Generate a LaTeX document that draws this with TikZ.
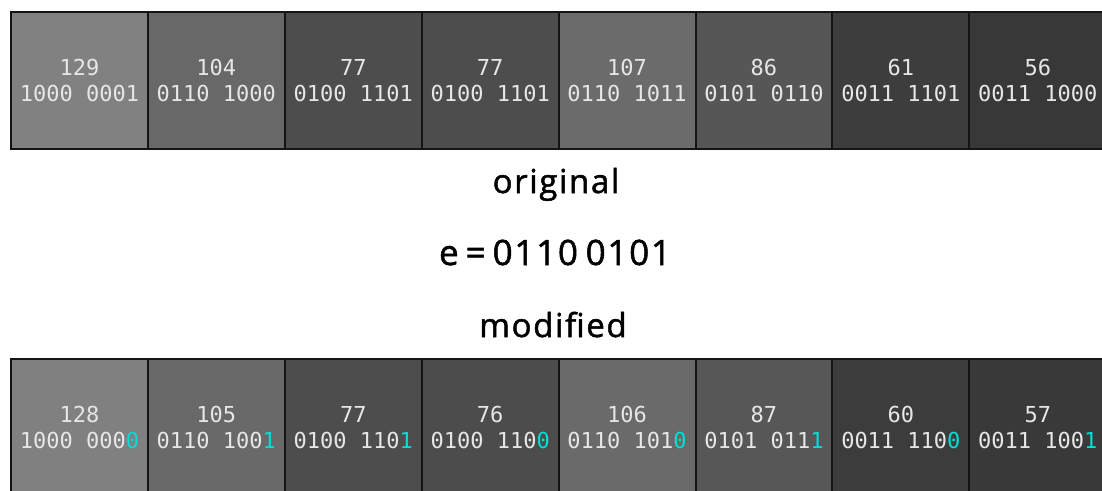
\documentclass[tikz,border=0pt]{standalone}
\usepackage{fontspec}
\setmainfont{Open Sans}
\newfontfamily\monof{DejaVu Sans Mono}
\newfontfamily\titlef[LetterSpace=5,FakeBold=1.5]{Open Sans}
\definecolor{txt}{RGB}{230,230,230}
\definecolor{cy}{RGB}{0,222,216}
\newcommand{\hl}[1]{{\color{cy}#1}}
\begin{document}
\begin{tikzpicture}[x=1pt,y=-1pt,
  cell/.style={draw={rgb,255:red,20;green,20;blue,20}, line width=2pt, minimum width=136.9pt, minimum height=137pt,
    inner sep=0pt, anchor=north west, align=center, text=txt,
    font=\monof\fontsize{22}{26}\selectfont,
    fill={rgb,255:red,#1;green,#1;blue,#1}},
  title/.style={anchor=base, inner sep=0pt, text=black,
    font=\titlef\fontsize{33}{38}\selectfont}]
\useasboundingbox (0,0) rectangle (1102,490);
\clip (0,0) rectangle (1102,490);
% original row
\node[cell=129] (o1) at (10,11) {129\\1000 0001};
\node[cell=104] (o2) at (146.9,11) {104\\0110 1000};
\node[cell=77]  (o3) at (283.8,11) {77\\0100 1101};
\node[cell=77]  (o4) at (420.7,11) {77\\0100 1101};
\node[cell=107] (o5) at (557.6,11) {107\\0110 1011};
\node[cell=86]  (o6) at (694.5,11) {86\\0101 0110};
\node[cell=61]  (o7) at (831.4,11) {61\\0011 1101};
\node[cell=56]  (o8) at (968.3,11) {56\\0011 1000};
% titles
\node[title, font=\titlef\fontsize{35}{40}\selectfont] (emb) at (555,265) {e\hspace{0.2em}=\hspace{0.2em}0110\hspace{0.22em}0101};
\node[title] (orig) at (556,193) {original};
\node[title] (mod) at (553,337) {modified};
% modified row
\node[cell=128] (m1) at (10,358) {128\\1000 000\hl{0}};
\node[cell=105] (m2) at (146.9,358) {105\\0110 100\hl{1}};
\node[cell=77]  (m3) at (283.8,358) {77\\0100 110\hl{1}};
\node[cell=76]  (m4) at (420.7,358) {76\\0100 110\hl{0}};
\node[cell=106] (m5) at (557.6,358) {106\\0110 101\hl{0}};
\node[cell=87]  (m6) at (694.5,358) {87\\0101 011\hl{1}};
\node[cell=60]  (m7) at (831.4,358) {60\\0011 110\hl{0}};
\node[cell=57]  (m8) at (968.3,358) {57\\0011 100\hl{1}};
\end{tikzpicture}
\end{document}
